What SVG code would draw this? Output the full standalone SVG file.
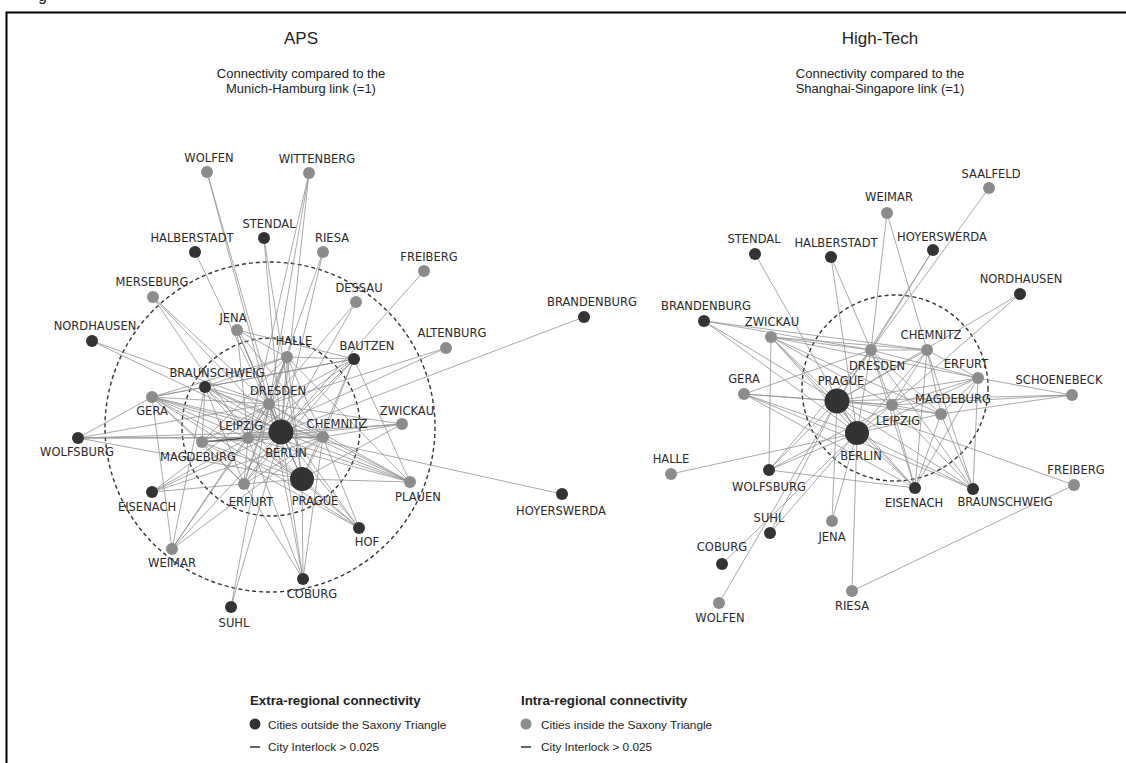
<svg xmlns="http://www.w3.org/2000/svg" width="1126" height="763" viewBox="0 0 1126 763">
<style>
.t{font-family:"Liberation Sans",Arial,sans-serif;fill:#222}
.lab{font-family:"DejaVu Sans",Verdana,sans-serif;font-size:11.5px;fill:#2a2a2a;text-anchor:middle}
.e line{stroke:#8c8c8c;stroke-width:0.75}
.ring{fill:none;stroke:#333;stroke-width:1.4;stroke-dasharray:4 3}
.d{fill:#333}
.g{fill:#8c8c8c}
</style>
<rect x="0" y="0" width="1126" height="763" fill="#fff"/>
<text class="t" x="38" y="1" font-size="16">g</text>
<rect x="6.5" y="12.5" width="1130" height="760" fill="none" stroke="#000" stroke-width="2"/>
<g id="titles">
<text class="t" x="301" y="44" font-size="17" text-anchor="middle">APS</text>
<text class="t" x="301" y="77.5" font-size="13" text-anchor="middle">Connectivity compared to the</text>
<text class="t" x="301" y="93" font-size="13" text-anchor="middle">Munich-Hamburg link (=1)</text>
<text class="t" x="880" y="44" font-size="17" text-anchor="middle">High-Tech</text>
<text class="t" x="880" y="77.5" font-size="13" text-anchor="middle">Connectivity compared to the</text>
<text class="t" x="880" y="93" font-size="13" text-anchor="middle">Shanghai-Singapore link (=1)</text>
</g>
<g id="rings">
<circle class="ring" cx="270" cy="427" r="165"/>
<circle class="ring" cx="271" cy="427" r="89"/>
<circle class="ring" cx="895" cy="388" r="93"/>
</g>
<g id="connectors" class="e">
<line x1="207" y1="172" x2="281" y2="432"/><line x1="207" y1="172" x2="269" y2="404"/>
<line x1="309" y1="173" x2="281" y2="432"/><line x1="309" y1="173" x2="269" y2="404"/><line x1="309" y1="173" x2="248" y2="438"/>
<line x1="264" y1="238" x2="281" y2="432"/><line x1="264" y1="238" x2="302" y2="479"/>
<line x1="195" y1="252" x2="281" y2="432"/>
<line x1="323" y1="252" x2="281" y2="432"/><line x1="323" y1="252" x2="269" y2="404"/>
<line x1="424" y1="271" x2="281" y2="432"/>
<line x1="356" y1="302" x2="269" y2="404"/><line x1="356" y1="302" x2="281" y2="432"/>
<line x1="153" y1="297" x2="248" y2="438"/><line x1="153" y1="297" x2="281" y2="432"/><line x1="153" y1="297" x2="269" y2="404"/>
<line x1="92" y1="341" x2="269" y2="404"/><line x1="92" y1="341" x2="281" y2="432"/>
<line x1="237" y1="330" x2="287" y2="357"/><line x1="237" y1="330" x2="269" y2="404"/><line x1="237" y1="330" x2="281" y2="432"/><line x1="237" y1="330" x2="248" y2="438"/><line x1="237" y1="330" x2="323" y2="437"/><line x1="237" y1="330" x2="302" y2="479"/><line x1="237" y1="330" x2="354" y2="359"/>
<line x1="287" y1="357" x2="205" y2="387"/><line x1="287" y1="357" x2="354" y2="359"/><line x1="287" y1="357" x2="269" y2="404"/><line x1="287" y1="357" x2="281" y2="432"/><line x1="287" y1="357" x2="248" y2="438"/><line x1="287" y1="357" x2="323" y2="437"/><line x1="287" y1="357" x2="302" y2="479"/><line x1="287" y1="357" x2="244" y2="484"/><line x1="287" y1="357" x2="202" y2="442"/><line x1="287" y1="357" x2="152" y2="397"/>
<line x1="354" y1="359" x2="269" y2="404"/><line x1="354" y1="359" x2="281" y2="432"/><line x1="354" y1="359" x2="248" y2="438"/><line x1="354" y1="359" x2="323" y2="437"/><line x1="354" y1="359" x2="302" y2="479"/><line x1="354" y1="359" x2="205" y2="387"/><line x1="354" y1="359" x2="152" y2="397"/><line x1="354" y1="359" x2="244" y2="484"/>
<line x1="584" y1="317" x2="281" y2="432"/>
<line x1="446" y1="348" x2="269" y2="404"/><line x1="446" y1="348" x2="248" y2="438"/>
<line x1="402" y1="424" x2="323" y2="437"/><line x1="402" y1="424" x2="281" y2="432"/><line x1="402" y1="424" x2="269" y2="404"/><line x1="402" y1="424" x2="248" y2="438"/><line x1="402" y1="424" x2="302" y2="479"/>
<line x1="410" y1="482" x2="323" y2="437"/><line x1="410" y1="482" x2="281" y2="432"/><line x1="410" y1="482" x2="269" y2="404"/><line x1="410" y1="482" x2="248" y2="438"/><line x1="410" y1="482" x2="302" y2="479"/><line x1="410" y1="482" x2="205" y2="387"/><line x1="410" y1="482" x2="287" y2="357"/><line x1="410" y1="482" x2="152" y2="397"/><line x1="410" y1="482" x2="354" y2="359"/>
<line x1="562" y1="494" x2="281" y2="432"/>
<line x1="359" y1="528" x2="323" y2="437"/><line x1="359" y1="528" x2="281" y2="432"/><line x1="359" y1="528" x2="269" y2="404"/><line x1="359" y1="528" x2="248" y2="438"/><line x1="359" y1="528" x2="302" y2="479"/><line x1="359" y1="528" x2="152" y2="397"/><line x1="359" y1="528" x2="202" y2="442"/>
<line x1="303" y1="579" x2="281" y2="432"/><line x1="303" y1="579" x2="302" y2="479"/><line x1="303" y1="579" x2="248" y2="438"/><line x1="303" y1="579" x2="269" y2="404"/><line x1="303" y1="579" x2="244" y2="484"/><line x1="303" y1="579" x2="323" y2="437"/>
<line x1="231" y1="607" x2="281" y2="432"/><line x1="231" y1="607" x2="269" y2="404"/>
<line x1="172" y1="549" x2="152" y2="397"/><line x1="172" y1="549" x2="205" y2="387"/><line x1="172" y1="549" x2="248" y2="438"/><line x1="172" y1="549" x2="281" y2="432"/><line x1="172" y1="549" x2="269" y2="404"/><line x1="172" y1="549" x2="323" y2="437"/>
<line x1="152" y1="492" x2="244" y2="484"/><line x1="152" y1="492" x2="281" y2="432"/><line x1="152" y1="492" x2="248" y2="438"/><line x1="152" y1="492" x2="269" y2="404"/><line x1="152" y1="492" x2="323" y2="437"/>
<line x1="78" y1="438" x2="152" y2="397"/><line x1="78" y1="438" x2="281" y2="432"/><line x1="78" y1="438" x2="248" y2="438"/><line x1="78" y1="438" x2="269" y2="404"/><line x1="78" y1="438" x2="323" y2="437"/><line x1="78" y1="438" x2="302" y2="479"/>
<line x1="152" y1="397" x2="205" y2="387"/><line x1="152" y1="397" x2="269" y2="404"/><line x1="152" y1="397" x2="281" y2="432"/><line x1="152" y1="397" x2="248" y2="438"/><line x1="152" y1="397" x2="323" y2="437"/><line x1="152" y1="397" x2="302" y2="479"/><line x1="152" y1="397" x2="244" y2="484"/><line x1="152" y1="397" x2="202" y2="442"/>
<line x1="205" y1="387" x2="269" y2="404"/><line x1="205" y1="387" x2="281" y2="432"/><line x1="205" y1="387" x2="248" y2="438"/><line x1="205" y1="387" x2="323" y2="437"/><line x1="205" y1="387" x2="302" y2="479"/><line x1="205" y1="387" x2="202" y2="442"/><line x1="205" y1="387" x2="244" y2="484"/>
<line x1="202" y1="442" x2="248" y2="438" style="stroke:#444;stroke-width:1.6"/><line x1="202" y1="442" x2="281" y2="432"/><line x1="202" y1="442" x2="269" y2="404"/><line x1="202" y1="442" x2="323" y2="437"/><line x1="202" y1="442" x2="302" y2="479"/><line x1="202" y1="442" x2="244" y2="484"/>
<line x1="244" y1="484" x2="281" y2="432"/><line x1="244" y1="484" x2="269" y2="404"/><line x1="244" y1="484" x2="248" y2="438"/><line x1="244" y1="484" x2="323" y2="437"/><line x1="244" y1="484" x2="302" y2="479"/>
<line x1="281" y1="432" x2="269" y2="404"/><line x1="281" y1="432" x2="248" y2="438"/><line x1="281" y1="432" x2="323" y2="437"/><line x1="281" y1="432" x2="302" y2="479"/>
<line x1="269" y1="404" x2="248" y2="438"/><line x1="269" y1="404" x2="323" y2="437"/><line x1="248" y1="438" x2="323" y2="437"/>
<line x1="302" y1="479" x2="269" y2="404"/><line x1="302" y1="479" x2="248" y2="438"/><line x1="302" y1="479" x2="323" y2="437"/>

<line x1="989" y1="188" x2="871" y2="350"/>
<line x1="887" y1="213" x2="871" y2="350"/><line x1="887" y1="213" x2="927" y2="350"/>
<line x1="933" y1="250" x2="871" y2="350"/><line x1="933" y1="250" x2="837" y2="401"/>
<line x1="755" y1="254" x2="857" y2="433"/>
<line x1="831" y1="257" x2="871" y2="350"/><line x1="831" y1="257" x2="857" y2="433"/>
<line x1="1020" y1="294" x2="837" y2="401"/><line x1="1020" y1="294" x2="892" y2="405"/>
<line x1="704" y1="321" x2="871" y2="350"/><line x1="704" y1="321" x2="837" y2="401"/><line x1="704" y1="321" x2="857" y2="433"/><line x1="704" y1="321" x2="927" y2="350"/>
<line x1="771" y1="337" x2="769" y2="470"/><line x1="771" y1="337" x2="871" y2="350"/><line x1="771" y1="337" x2="927" y2="350"/><line x1="771" y1="337" x2="978" y2="378"/><line x1="771" y1="337" x2="837" y2="401"/><line x1="771" y1="337" x2="857" y2="433"/><line x1="771" y1="337" x2="892" y2="405"/><line x1="771" y1="337" x2="915" y2="488"/><line x1="771" y1="337" x2="941" y2="414"/>
<line x1="744" y1="394" x2="871" y2="350"/><line x1="744" y1="394" x2="837" y2="401"/><line x1="744" y1="394" x2="857" y2="433"/><line x1="744" y1="394" x2="892" y2="405"/><line x1="744" y1="394" x2="915" y2="488"/><line x1="744" y1="394" x2="973" y2="489"/>
<line x1="671" y1="474" x2="857" y2="433"/>
<line x1="769" y1="470" x2="837" y2="401"/><line x1="769" y1="470" x2="857" y2="433"/><line x1="769" y1="470" x2="871" y2="350"/><line x1="769" y1="470" x2="915" y2="488"/><line x1="769" y1="470" x2="892" y2="405"/>
<line x1="770" y1="533" x2="857" y2="433"/><line x1="770" y1="533" x2="837" y2="401"/>
<line x1="722" y1="564" x2="857" y2="433"/>
<line x1="719" y1="603" x2="837" y2="401"/>
<line x1="832" y1="521" x2="837" y2="401"/><line x1="832" y1="521" x2="857" y2="433"/>
<line x1="852" y1="591" x2="857" y2="433"/><line x1="852" y1="591" x2="1074" y2="485"/>
<line x1="1074" y1="485" x2="837" y2="401"/>
<line x1="1072" y1="395" x2="978" y2="378"/><line x1="1072" y1="395" x2="892" y2="405"/><line x1="1072" y1="395" x2="941" y2="414"/><line x1="1072" y1="395" x2="837" y2="401"/>
<line x1="915" y1="488" x2="892" y2="405"/><line x1="915" y1="488" x2="941" y2="414"/><line x1="915" y1="488" x2="978" y2="378"/><line x1="915" y1="488" x2="927" y2="350"/><line x1="915" y1="488" x2="871" y2="350"/><line x1="915" y1="488" x2="837" y2="401"/><line x1="915" y1="488" x2="857" y2="433"/>
<line x1="973" y1="489" x2="978" y2="378"/><line x1="973" y1="489" x2="941" y2="414"/><line x1="973" y1="489" x2="892" y2="405"/><line x1="973" y1="489" x2="927" y2="350"/><line x1="973" y1="489" x2="871" y2="350"/><line x1="973" y1="489" x2="837" y2="401"/><line x1="973" y1="489" x2="857" y2="433"/>
<line x1="837" y1="401" x2="857" y2="433"/><line x1="837" y1="401" x2="871" y2="350"/><line x1="837" y1="401" x2="892" y2="405"/><line x1="837" y1="401" x2="927" y2="350"/><line x1="837" y1="401" x2="941" y2="414"/><line x1="837" y1="401" x2="978" y2="378"/>
<line x1="857" y1="433" x2="871" y2="350"/><line x1="857" y1="433" x2="892" y2="405"/><line x1="857" y1="433" x2="927" y2="350"/><line x1="857" y1="433" x2="941" y2="414"/><line x1="857" y1="433" x2="978" y2="378"/>
<line x1="871" y1="350" x2="927" y2="350"/><line x1="871" y1="350" x2="978" y2="378"/><line x1="871" y1="350" x2="892" y2="405"/><line x1="871" y1="350" x2="941" y2="414"/>
<line x1="927" y1="350" x2="978" y2="378"/><line x1="927" y1="350" x2="892" y2="405"/><line x1="927" y1="350" x2="941" y2="414"/>
<line x1="978" y1="378" x2="892" y2="405"/><line x1="978" y1="378" x2="941" y2="414"/><line x1="892" y1="405" x2="941" y2="414"/>
</g>

<g id="aps-nodes">
<g id="L-wolfen"><circle class="g" cx="207" cy="172" r="6"/><text class="lab" x="209" y="162">WOLFEN</text></g>
<g id="L-wittenberg"><circle class="g" cx="309" cy="173" r="6"/><text class="lab" x="317" y="163">WITTENBERG</text></g>
<g id="L-stendal"><circle class="d" cx="264" cy="238" r="6"/><text class="lab" x="269" y="227.5">STENDAL</text></g>
<g id="L-halberstadt"><circle class="d" cx="195" cy="252" r="6"/><text class="lab" x="192" y="241.5">HALBERSTADT</text></g>
<g id="L-riesa"><circle class="g" cx="323" cy="252" r="6"/><text class="lab" x="332" y="242">RIESA</text></g>
<g id="L-freiberg"><circle class="g" cx="424" cy="271" r="6"/><text class="lab" x="429" y="261">FREIBERG</text></g>
<g id="L-dessau"><circle class="g" cx="356" cy="302" r="6"/><text class="lab" x="359" y="292">DESSAU</text></g>
<g id="L-merseburg"><circle class="g" cx="153" cy="297" r="6"/><text class="lab" x="152" y="286">MERSEBURG</text></g>
<g id="L-jena"><circle class="g" cx="237" cy="330" r="6"/><text class="lab" x="233" y="321.5">JENA</text></g>
<g id="L-nordhausen"><circle class="d" cx="92" cy="341" r="6"/><text class="lab" x="95" y="330">NORDHAUSEN</text></g>
<g id="L-halle"><circle class="g" cx="287" cy="357" r="6"/><text class="lab" x="294" y="345">HALLE</text></g>
<g id="L-bautzen"><circle class="d" cx="354" cy="359" r="6"/><text class="lab" x="367" y="350">BAUTZEN</text></g>
<g id="L-brandenburg"><circle class="d" cx="584" cy="317" r="6"/><text class="lab" x="592" y="306">BRANDENBURG</text></g>
<g id="L-altenburg"><circle class="g" cx="446" cy="348" r="6"/><text class="lab" x="452" y="337">ALTENBURG</text></g>
<g id="L-braunschweig"><circle class="d" cx="205" cy="387" r="6"/><text class="lab" x="217" y="377">BRAUNSCHWEIG</text></g>
<g id="L-dresden"><circle class="g" cx="269" cy="404" r="6"/><text class="lab" x="278" y="395">DRESDEN</text></g>
<g id="L-gera"><circle class="g" cx="152" cy="397" r="6"/><text class="lab" x="152" y="415">GERA</text></g>
<g id="L-leipzig"><circle class="g" cx="248" cy="438" r="6"/><text class="lab" x="241" y="430">LEIPZIG</text></g>
<g id="L-chemnitz"><circle class="g" cx="323" cy="437" r="6"/><text class="lab" x="337" y="428">CHEMNITZ</text></g>
<g id="L-zwickau"><circle class="g" cx="402" cy="424" r="6"/><text class="lab" x="407" y="415">ZWICKAU</text></g>
<g id="L-magdeburg"><circle class="g" cx="202" cy="442" r="6"/><text class="lab" x="198" y="461">MAGDEBURG</text></g>
<g id="L-wolfsburg"><circle class="d" cx="78" cy="438" r="6"/><text class="lab" x="77" y="456">WOLFSBURG</text></g>
<g id="L-berlin"><circle class="d" cx="281" cy="432" r="12.5"/><text class="lab" x="286" y="457">BERLIN</text></g>
<g id="L-prague"><circle class="d" cx="302" cy="479" r="12"/><text class="lab" x="315" y="505">PRAGUE</text></g>
<g id="L-erfurt"><circle class="g" cx="244" cy="484" r="6"/><text class="lab" x="251" y="506">ERFURT</text></g>
<g id="L-plauen"><circle class="g" cx="410" cy="482" r="6"/><text class="lab" x="418" y="501">PLAUEN</text></g>
<g id="L-eisenach"><circle class="d" cx="152" cy="492" r="6"/><text class="lab" x="147" y="511">EISENACH</text></g>
<g id="L-hoyerswerda"><circle class="d" cx="562" cy="494" r="6"/><text class="lab" x="561" y="515">HOYERSWERDA</text></g>
<g id="L-hof"><circle class="d" cx="359" cy="528" r="6"/><text class="lab" x="367" y="546">HOF</text></g>
<g id="L-weimar"><circle class="g" cx="172" cy="549" r="6"/><text class="lab" x="172" y="567">WEIMAR</text></g>
<g id="L-coburg"><circle class="d" cx="303" cy="579" r="6"/><text class="lab" x="312" y="598">COBURG</text></g>
<g id="L-suhl"><circle class="d" cx="231" cy="607" r="6"/><text class="lab" x="234" y="627">SUHL</text></g>
</g>

<g id="hightech-nodes">
<g id="R-saalfeld"><circle class="g" cx="989" cy="188" r="6"/><text class="lab" x="991" y="178">SAALFELD</text></g>
<g id="R-weimar"><circle class="g" cx="887" cy="213" r="6"/><text class="lab" x="889" y="201">WEIMAR</text></g>
<g id="R-hoyerswerda"><circle class="d" cx="933" cy="250" r="6"/><text class="lab" x="942" y="241">HOYERSWERDA</text></g>
<g id="R-stendal"><circle class="d" cx="755" cy="254" r="6"/><text class="lab" x="754" y="243">STENDAL</text></g>
<g id="R-halberstadt"><circle class="d" cx="831" cy="257" r="6"/><text class="lab" x="836" y="247">HALBERSTADT</text></g>
<g id="R-nordhausen"><circle class="d" cx="1020" cy="294" r="6"/><text class="lab" x="1021" y="283">NORDHAUSEN</text></g>
<g id="R-brandenburg"><circle class="d" cx="704" cy="321" r="6"/><text class="lab" x="706" y="310">BRANDENBURG</text></g>
<g id="R-zwickau"><circle class="g" cx="771" cy="337" r="6"/><text class="lab" x="772" y="326">ZWICKAU</text></g>
<g id="R-chemnitz"><circle class="g" cx="927" cy="350" r="6"/><text class="lab" x="931" y="339">CHEMNITZ</text></g>
<g id="R-dresden"><circle class="g" cx="871" cy="350" r="6"/><text class="lab" x="877" y="370">DRESDEN</text></g>
<g id="R-erfurt"><circle class="g" cx="978" cy="378" r="6"/><text class="lab" x="966" y="368">ERFURT</text></g>
<g id="R-schoenebeck"><circle class="g" cx="1072" cy="395" r="6"/><text class="lab" x="1059" y="384">SCHOENEBECK</text></g>
<g id="R-gera"><circle class="g" cx="744" cy="394" r="6"/><text class="lab" x="744" y="383">GERA</text></g>
<g id="R-magdeburg"><circle class="g" cx="941" cy="414" r="6"/><text class="lab" x="953" y="403">MAGDEBURG</text></g>
<g id="R-leipzig"><circle class="g" cx="892" cy="405" r="6"/><text class="lab" x="898" y="425">LEIPZIG</text></g>
<g id="R-prague"><circle class="d" cx="837" cy="401" r="12.5"/><text class="lab" x="841" y="385">PRAGUE</text></g>
<g id="R-berlin"><circle class="d" cx="857" cy="433" r="12"/><text class="lab" x="861" y="460">BERLIN</text></g>
<g id="R-halle"><circle class="g" cx="671" cy="474" r="6"/><text class="lab" x="671" y="463">HALLE</text></g>
<g id="R-wolfsburg"><circle class="d" cx="769" cy="470" r="6"/><text class="lab" x="769" y="491">WOLFSBURG</text></g>
<g id="R-eisenach"><circle class="d" cx="915" cy="488" r="6"/><text class="lab" x="914" y="507">EISENACH</text></g>
<g id="R-braunschweig"><circle class="d" cx="973" cy="489" r="6"/><text class="lab" x="1005" y="506">BRAUNSCHWEIG</text></g>
<g id="R-freiberg"><circle class="g" cx="1074" cy="485" r="6"/><text class="lab" x="1076" y="474">FREIBERG</text></g>
<g id="R-suhl"><circle class="d" cx="770" cy="533" r="6"/><text class="lab" x="769" y="522">SUHL</text></g>
<g id="R-jena"><circle class="g" cx="832" cy="521" r="6"/><text class="lab" x="832" y="541">JENA</text></g>
<g id="R-coburg"><circle class="d" cx="722" cy="564" r="6"/><text class="lab" x="722" y="551">COBURG</text></g>
<g id="R-riesa"><circle class="g" cx="852" cy="591" r="6"/><text class="lab" x="852" y="610">RIESA</text></g>
<g id="R-wolfen"><circle class="g" cx="719" cy="603" r="6"/><text class="lab" x="720" y="622">WOLFEN</text></g>
</g>

<g id="legend">
<text class="t" x="250" y="704.5" font-size="13.3" font-weight="bold">Extra-regional connectivity</text>
<circle class="d" cx="255" cy="724" r="5.5"/>
<text class="t" x="268" y="728.5" font-size="11.8">Cities outside the Saxony Triangle</text>
<line x1="250" y1="747" x2="260" y2="747" stroke="#333" stroke-width="1.5"/>
<text class="t" x="268" y="751" font-size="11.8">City Interlock &gt; 0.025</text>
<text class="t" x="521" y="704.5" font-size="13.3" font-weight="bold">Intra-regional connectivity</text>
<circle class="g" cx="526" cy="724" r="5.5"/>
<text class="t" x="541" y="728.5" font-size="11.8">Cities inside the Saxony Triangle</text>
<line x1="521" y1="747" x2="531" y2="747" stroke="#333" stroke-width="1.5"/>
<text class="t" x="541" y="751" font-size="11.8">City Interlock &gt; 0.025</text>
</g>
</svg>
